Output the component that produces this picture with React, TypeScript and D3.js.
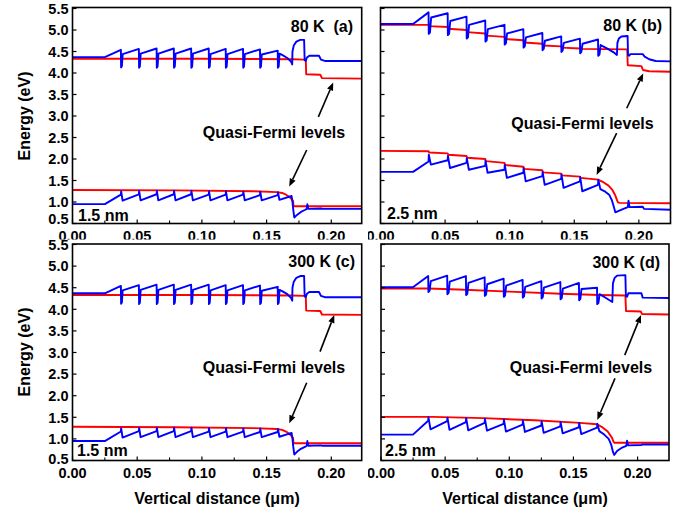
import React from 'react';
import * as d3 from 'd3';

type Pt = [number, number];

// ---------- Panel (a) / (c): 1.5 nm wells ----------
const wellsA = [0.0374, 0.0513, 0.0650, 0.0783, 0.0917, 0.1053, 0.1184, 0.1318, 0.1449, 0.1586];
const cbLeadA: Pt[] = [[0, 4.37], [0.025, 4.37]];
const cbPeakA = [4.54, 4.56, 4.57, 4.57, 4.57, 4.57, 4.56, 4.56, 4.55, 4.52];
const cbDipA = [4.13, 4.12, 4.12, 4.12, 4.12, 4.12, 4.12, 4.12, 4.12, 4.12];
const cbBaseA = [4.44, 4.45, 4.45, 4.45, 4.45, 4.44, 4.44, 4.44, 4.43, 4.45];
const cbTailA: Pt[] = [[0.1620, 4.42], [0.1660, 4.35], [0.1690, 4.26], [0.1698, 4.20], [0.1700, 4.50], [0.1710, 4.64], [0.1730, 4.73], [0.1760, 4.77], [0.1790, 4.77], [0.1794, 4.30], [0.1802, 4.28], [0.1812, 4.36], [0.1830, 4.40], [0.1905, 4.40], [0.1920, 4.31], [0.1950, 4.28], [0.2235, 4.28]];
const efnA: Pt[] = [[0, 4.33], [0.10, 4.33], [0.170, 4.32], [0.1790, 4.31], [0.1803, 4.30], [0.1806, 3.97], [0.1915, 3.96], [0.1928, 3.88], [0.2235, 3.87]];
const vbLeadA: Pt[] = [[0, 0.95], [0.025, 0.95]];
const vbRampA = [1.17, 1.18, 1.18, 1.18, 1.18, 1.17, 1.17, 1.17, 1.16, 1.16];
const vbTopA = [1.25, 1.26, 1.26, 1.26, 1.26, 1.25, 1.25, 1.24, 1.24, 1.23];
const vbBaseA = [1.03, 1.04, 1.04, 1.04, 1.04, 1.04, 1.04, 1.04, 1.04, 1.05];
const vbTailA: Pt[] = [[0.1693, 1.14], [0.1700, 1.00], [0.1706, 0.82], [0.1714, 0.64], [0.1735, 0.70], [0.1765, 0.77], [0.1800, 0.82], [0.1810, 0.84], [0.1815, 0.95], [0.1822, 0.84], [0.1920, 0.85], [0.1935, 0.84], [0.2235, 0.84]];
const efpA: Pt[] = [[0, 1.28], [0.08, 1.27], [0.140, 1.25], [0.158, 1.23], [0.1620, 1.21], [0.1650, 1.17], [0.1675, 1.12], [0.1695, 1.06], [0.1705, 1.02], [0.1708, 0.90], [0.2235, 0.90]];

// ---------- Panel (b): 2.5 nm, 80 K ----------
const wellsB = [0.0372, 0.0520, 0.0666, 0.0811, 0.0960, 0.1106, 0.1253, 0.1399, 0.1544, 0.1684];
const cbLeadB: Pt[] = [[0, 5.14], [0.0252, 5.14]];
const cbPeakB = [5.41, 5.39, 5.31, 5.22, 5.12, 5.02, 4.93, 4.85, 4.80, 4.78];
const cbDipB = [4.91, 4.88, 4.80, 4.73, 4.66, 4.59, 4.53, 4.49, 4.46, 4.40];
const cbBaseB = [5.29, 5.21, 5.12, 5.02, 4.92, 4.83, 4.75, 4.70, 4.68, 4.65];
const cbTailB: Pt[] = [[0.1760, 4.56], [0.1805, 4.48], [0.1830, 4.42], [0.1834, 4.70], [0.1845, 4.80], [0.1865, 4.85], [0.1913, 4.86], [0.1916, 4.42], [0.1925, 4.40], [0.1935, 4.44], [0.2030, 4.44], [0.2045, 4.38], [0.2080, 4.32], [0.2130, 4.28], [0.2245, 4.27]];
const efnB: Pt[] = [[0, 5.12], [0.0372, 5.12], [0.0376, 5.09], [0.0520, 5.07], [0.0524, 5.03], [0.0666, 5.00], [0.0670, 4.95], [0.0811, 4.92], [0.0815, 4.87], [0.0960, 4.84], [0.0964, 4.79], [0.1106, 4.76], [0.1110, 4.71], [0.1253, 4.68], [0.1257, 4.64], [0.1399, 4.62], [0.1403, 4.59], [0.1544, 4.57], [0.1548, 4.56], [0.1910, 4.55], [0.1914, 4.18], [0.2020, 4.16], [0.2032, 4.07], [0.2080, 4.04], [0.2245, 4.03]];
const vbLeadB: Pt[] = [[0, 1.70], [0.0252, 1.70]];
const vbRampB = [1.94, 1.97, 1.91, 1.84, 1.75, 1.68, 1.60, 1.54, 1.48, 1.40];
const vbTopB = [2.10, 2.07, 2.02, 1.96, 1.87, 1.79, 1.70, 1.64, 1.58, 1.52];
const vbBaseB = [1.87, 1.79, 1.75, 1.68, 1.56, 1.48, 1.40, 1.33, 1.25, 1.30];
const vbTailB: Pt[] = [[0.1740, 1.24], [0.1770, 1.17], [0.1790, 1.05], [0.1805, 0.90], [0.1818, 0.76], [0.1840, 0.79], [0.1890, 0.85], [0.1915, 0.88], [0.1920, 1.03], [0.1928, 0.88], [0.2030, 0.89], [0.2040, 0.84], [0.2245, 0.82]];
const efpB: Pt[] = [[0, 2.19], [0.0372, 2.18], [0.0377, 2.15], [0.0520, 2.13], [0.0525, 2.10], [0.0666, 2.07], [0.0671, 2.03], [0.0811, 2.00], [0.0816, 1.95], [0.0960, 1.91], [0.0965, 1.86], [0.1106, 1.82], [0.1111, 1.77], [0.1253, 1.74], [0.1258, 1.69], [0.1399, 1.66], [0.1404, 1.62], [0.1544, 1.59], [0.1549, 1.56], [0.1684, 1.52], [0.1720, 1.47], [0.1765, 1.38], [0.1795, 1.28], [0.1815, 1.17], [0.1830, 1.05], [0.1838, 0.99], [0.1850, 0.98], [0.2245, 0.97]];

// ---------- Panel (d): 2.5 nm, 300 K ----------
const wellsD = [0.0368, 0.0516, 0.0662, 0.0808, 0.0956, 0.1104, 0.1250, 0.1398, 0.1543, 0.1684];
const cbLeadD: Pt[] = [[0, 4.51], [0.0249, 4.51]];
const cbPeakD = [4.77, 4.78, 4.77, 4.74, 4.71, 4.68, 4.65, 4.63, 4.61, 4.50];
const cbDipD = [4.40, 4.35, 4.33, 4.31, 4.29, 4.27, 4.25, 4.23, 4.21, 4.12];
const cbBaseD = [4.65, 4.64, 4.61, 4.58, 4.55, 4.52, 4.50, 4.48, 4.47, 4.35];
const cbTailD: Pt[] = [[0.1760, 4.25], [0.1803, 4.17], [0.1808, 4.60], [0.1820, 4.72], [0.1840, 4.78], [0.1905, 4.79], [0.1909, 4.30], [0.1918, 4.29], [0.1928, 4.37], [0.2030, 4.37], [0.2040, 4.27], [0.2245, 4.26]];
const efnD: Pt[] = [[0, 4.48], [0.0368, 4.48], [0.06, 4.46], [0.10, 4.41], [0.14, 4.36], [0.17, 4.33], [0.1905, 4.32], [0.1910, 3.96], [0.2025, 3.95], [0.2035, 3.89], [0.2245, 3.88]];
const vbLeadD: Pt[] = [[0, 1.10], [0.0249, 1.10]];
const vbRampD = [1.42, 1.41, 1.39, 1.37, 1.35, 1.33, 1.31, 1.29, 1.27, 1.26];
const vbTopD = [1.50, 1.49, 1.48, 1.47, 1.45, 1.43, 1.41, 1.39, 1.37, 1.35];
const vbBaseD = [1.22, 1.21, 1.20, 1.19, 1.17, 1.16, 1.14, 1.13, 1.11, 1.18];
const vbTailD: Pt[] = [[0.1740, 1.10], [0.1775, 1.00], [0.1795, 0.86], [0.1808, 0.70], [0.1818, 0.63], [0.1840, 0.72], [0.1880, 0.80], [0.1912, 0.84], [0.1918, 0.96], [0.1926, 0.85], [0.2030, 0.86], [0.2040, 0.87], [0.2245, 0.87]];
const efpD: Pt[] = [[0, 1.51], [0.04, 1.51], [0.08, 1.48], [0.12, 1.43], [0.155, 1.37], [0.1684, 1.34], [0.172, 1.28], [0.1767, 1.17], [0.1800, 1.03], [0.1813, 0.93], [0.1820, 0.91], [0.2245, 0.91]];

// ---------- Annotation arrows (data coordinates: from -> to) ----------
const arrowsA: [Pt, Pt][] = [[[0.190, 2.98], [0.2015, 3.78]], [[0.181, 2.21], [0.1675, 1.36]]];
const arrowsB: [Pt, Pt][] = [[[0.1906, 3.18], [0.2034, 3.99]], [[0.1828, 2.60], [0.1673, 1.63]]];
const arrowsC: [Pt, Pt][] = [[[0.1913, 3.02], [0.2023, 3.87]], [[0.181, 2.30], [0.1675, 1.36]]];
const arrowsD: [Pt, Pt][] = [[[0.190, 2.94], [0.2027, 3.87]], [[0.1824, 2.40], [0.1686, 1.44]]];

// ---------- Ticks ----------
const yTicks = [0.5, 1.0, 1.5, 2.0, 2.5, 3.0, 3.5, 4.0, 4.5, 5.0, 5.5];
const xTicks = [0, 0.05, 0.10, 0.15, 0.20];
const xMinorTicks = [0.025, 0.075, 0.125, 0.175, 0.225];

const FONT = "'Liberation Sans', Arial, Helvetica, sans-serif";

function buildCB(lead: Pt[], wells: number[], peak: number[], dip: number[], base: number[], tail: Pt[], w: number): Pt[] {
  const pts: Pt[] = [...lead];
  wells.forEach((x, i) => {
    pts.push([x, peak[i]], [x + 0.00015, dip[i]], [x + w * 0.55, dip[i] + 0.03], [x + w, base[i]]);
  });
  return pts.concat(tail);
}

function buildVB(lead: Pt[], wells: number[], ramp: number[], top: number[], base: number[], tail: Pt[], w: number): Pt[] {
  const pts: Pt[] = [...lead];
  wells.forEach((x, i) => {
    pts.push([x, ramp[i]], [x + 0.0002, top[i]], [x + w, base[i]]);
  });
  return pts.concat(tail);
}

const cbA = buildCB(cbLeadA, wellsA, cbPeakA, cbDipA, cbBaseA, cbTailA, 0.0014);
const vbA = buildVB(vbLeadA, wellsA, vbRampA, vbTopA, vbBaseA, vbTailA, 0.0013);
const cbB = buildCB(cbLeadB, wellsB, cbPeakB, cbDipB, cbBaseB, cbTailB, 0.0020);
const vbB = buildVB(vbLeadB, wellsB, vbRampB, vbTopB, vbBaseB, vbTailB, 0.0018);
const cbD = buildCB(cbLeadD, wellsD, cbPeakD, cbDipD, cbBaseD, cbTailD, 0.0020);
const vbD = buildVB(vbLeadD, wellsD, vbRampD, vbTopD, vbBaseD, vbTailD, 0.0018);

interface PanelCfg {
  id: string;
  left: number; right: number; top: number; bottom: number; y55: number;
  xMax: number;
  cb: Pt[]; vb: Pt[]; efn: Pt[]; efp: Pt[];
  arrows: [Pt, Pt][];
  tempLabel: string; tempX: number; tempY: number;
  qx: number; qy: number;
  thick: string; thickX: number; thickY: number;
  showYLabels: boolean;
  clip: [number, number, number, number];
  nudge05: number;
}

const panels: PanelCfg[] = [
  { id: 'a', left: 72.5, right: 361.7, top: 7.5, bottom: 223.5, y55: 8.5, xMax: 0.2235,
    cb: cbA, vb: vbA, efn: efnA, efp: efpA, arrows: arrowsA,
    tempLabel: '80 K  (a)', tempX: 353, tempY: 32, qx: 274, qy: 137.5,
    thick: '1.5 nm', thickX: 78, thickY: 220.5, showYLabels: true, clip: [0, 0, 682, 239.5], nudge05: -5 },
  { id: 'b', left: 380.5, right: 670.5, top: 7.5, bottom: 223.5, y55: 8.5, xMax: 0.2245,
    cb: cbB, vb: vbB, efn: efnB, efp: efpB, arrows: arrowsB,
    tempLabel: '80 K (b)', tempX: 662, tempY: 30.5, qx: 582.5, qy: 129,
    thick: '2.5 nm', thickX: 387, thickY: 219, showYLabels: false, clip: [368, 0, 314, 239.5], nudge05: 0 },
  { id: 'c', left: 72.5, right: 361.7, top: 244, bottom: 460.5, y55: 244.5, xMax: 0.2235,
    cb: cbA, vb: vbA, efn: efnA, efp: efpA, arrows: arrowsC,
    tempLabel: '300 K (c)', tempX: 355, tempY: 267, qx: 274, qy: 372.5,
    thick: '1.5 nm', thickX: 77, thickY: 456.3, showYLabels: true, clip: [0, 239.5, 682, 272.5], nudge05: -1.5 },
  { id: 'd', left: 381, right: 669, top: 244, bottom: 460.5, y55: 244.5, xMax: 0.2245,
    cb: cbD, vb: vbD, efn: efnD, efp: efpD, arrows: arrowsD,
    tempLabel: '300 K (d)', tempX: 660, tempY: 268, qx: 581, qy: 373,
    thick: '2.5 nm', thickX: 385, thickY: 455.5, showYLabels: false, clip: [368, 239.5, 314, 272.5], nudge05: 0 },
];

function Arrow({ from, to }: { from: [number, number]; to: [number, number] }) {
  const dx = to[0] - from[0];
  const dy = to[1] - from[1];
  const len = Math.sqrt(dx * dx + dy * dy);
  const ux = dx / len, uy = dy / len;
  const hl = 8, hw = 3.2;
  const bx = to[0] - ux * hl, by = to[1] - uy * hl;
  const p1 = [bx - uy * hw, by + ux * hw];
  const p2 = [bx + uy * hw, by - ux * hw];
  return (
    <g>
      <line x1={from[0]} y1={from[1]} x2={bx} y2={by} stroke="#000" strokeWidth={1.6} />
      <polygon points={`${to[0]},${to[1]} ${p1[0]},${p1[1]} ${p2[0]},${p2[1]}`} fill="#000" />
    </g>
  );
}

function Panel({ cfg }: { cfg: PanelCfg }) {
  const x = d3.scaleLinear().domain([0, cfg.xMax]).range([cfg.left, cfg.right]);
  const y = d3.scaleLinear().domain([0.5, 5.5]).range([cfg.bottom, cfg.y55]);
  const line = d3.line<Pt>().x(d => x(d[0])).y(d => y(d[1]));
  const clipId = `plot-${cfg.id}`;
  const lblClipId = `lbl-${cfg.id}`;
  const f2 = d3.format('.2f');
  const f1 = d3.format('.1f');
  return (
    <g>
      <defs>
        <clipPath id={clipId}>
          <rect x={cfg.left} y={cfg.top} width={cfg.right - cfg.left} height={cfg.bottom - cfg.top} />
        </clipPath>
        <clipPath id={lblClipId}>
          <rect x={cfg.clip[0]} y={cfg.clip[1]} width={cfg.clip[2]} height={cfg.clip[3]} />
        </clipPath>
      </defs>
      <g clipPath={`url(#${clipId})`}>
        <path d={line(cfg.efn) || ''} fill="none" stroke="#ff0000" strokeWidth={1.9} strokeLinejoin="round" />
        <path d={line(cfg.efp) || ''} fill="none" stroke="#ff0000" strokeWidth={1.9} strokeLinejoin="round" />
        <path d={line(cfg.cb) || ''} fill="none" stroke="#0000ff" strokeWidth={1.9} strokeLinejoin="round" />
        <path d={line(cfg.vb) || ''} fill="none" stroke="#0000ff" strokeWidth={1.9} strokeLinejoin="round" />
      </g>
      {yTicks.map(t => (
        <line key={`yt${t}`} x1={cfg.left} x2={cfg.left + 4} y1={y(t)} y2={y(t)} stroke="#000" strokeWidth={1.2} />
      ))}
      {xTicks.map(t => (
        <line key={`xt${t}`} x1={x(t)} x2={x(t)} y1={cfg.bottom} y2={cfg.bottom - 4} stroke="#000" strokeWidth={1.2} />
      ))}
      {xMinorTicks.filter(t => t < cfg.xMax).map(t => (
        <line key={`xm${t}`} x1={x(t)} x2={x(t)} y1={cfg.bottom} y2={cfg.bottom - 3} stroke="#000" strokeWidth={1.1} />
      ))}
      <rect x={cfg.left} y={cfg.top} width={cfg.right - cfg.left} height={cfg.bottom - cfg.top}
        fill="none" stroke="#000" strokeWidth={1.6} />
      <g clipPath={`url(#${lblClipId})`} fontFamily={FONT} fontWeight="bold" fontSize={14.5} fill="#000">
        {xTicks.map(t => (
          <text key={`xl${t}`} x={x(t)} y={cfg.bottom + 17} textAnchor="middle">{f2(t)}</text>
        ))}
        {cfg.showYLabels && yTicks.map(t => (
          <text key={`yl${t}`} x={cfg.left - 4} y={y(t) + 5.2 + (t === 0.5 ? cfg.nudge05 : 0)} textAnchor="end">{f1(t)}</text>
        ))}
      </g>
      <g fontFamily={FONT} fontWeight="bold" fontSize={16} fill="#000">
        <text x={cfg.tempX} y={cfg.tempY} textAnchor="end" style={{ whiteSpace: 'pre' }}>{cfg.tempLabel}</text>
        <text x={cfg.qx} y={cfg.qy} textAnchor="middle">Quasi-Fermi levels</text>
        <text x={cfg.thickX} y={cfg.thickY}>{cfg.thick}</text>
      </g>
      {cfg.arrows.map((a, i) => (
        <Arrow key={i} from={[x(a[0][0]), y(a[0][1])]} to={[x(a[1][0]), y(a[1][1])]} />
      ))}
    </g>
  );
}

export default function App() {
  return (
    <div style={{ position: 'absolute', left: 0, top: 0, width: 682, height: 512, background: '#fff' }}>
      <svg width={682} height={512} viewBox="0 0 682 512" style={{ display: 'block' }}>
        <rect x={0} y={0} width={682} height={512} fill="#fff" />
        {panels.map(p => <Panel key={p.id} cfg={p} />)}
        <g fontFamily={FONT} fontWeight="bold" fontSize={16} fill="#000">
          <text transform="translate(30,116) rotate(-90)" textAnchor="middle">Energy (eV)</text>
          <text transform="translate(30,352) rotate(-90)" textAnchor="middle">Energy (eV)</text>
          <text x={217} y={503.5} textAnchor="middle">Vertical distance (μm)</text>
          <text x={525} y={503.5} textAnchor="middle">Vertical distance (μm)</text>
        </g>
      </svg>
    </div>
  );
}
